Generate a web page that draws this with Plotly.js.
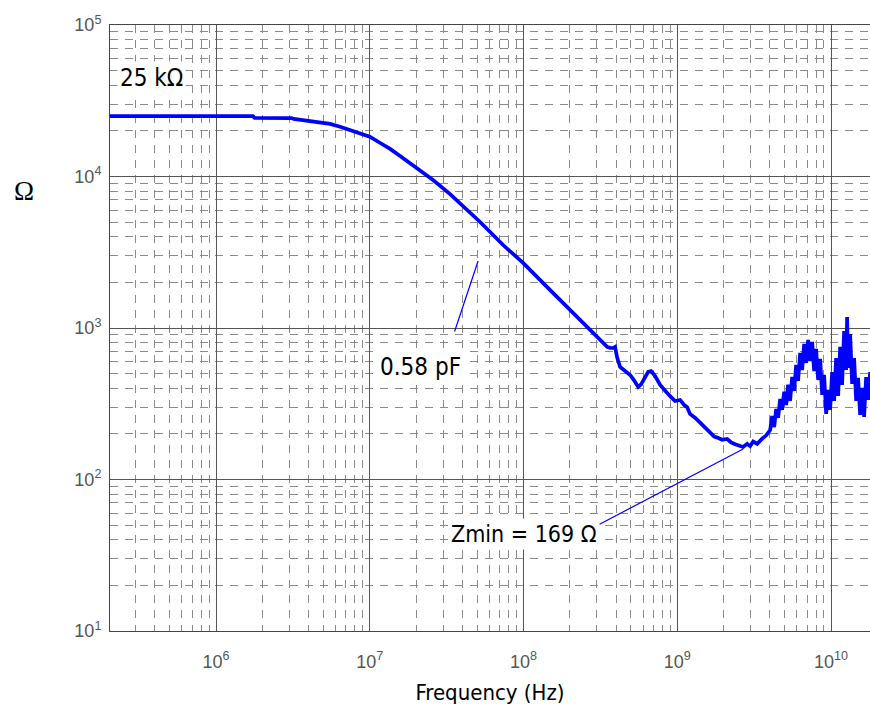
<!DOCTYPE html>
<html>
<head>
<meta charset="utf-8">
<script src="https://cdn.plot.ly/plotly-3.0.1.min.js"></script>
<style>html,body{margin:0;padding:0;background:#fff;}#chart{width:870px;height:711px;}</style>
</head>
<body>
<div id="chart"></div>
<script>
// Impedance magnitude vs frequency
const freqHz = [
  2.04e5, 5.0e5, 1.0e6, 1.74e6, 1.78e6, 2.5e6, 3.1e6, 3.2e6, 4.09e6, 4.75e6,
  5.52e6, 6.41e6, 7.45e6, 8.65e6, 1.0e7, 1.17e7, 1.355e7, 1.575e7, 1.91e7, 2.22e7,
  2.58e7, 3.33e7, 4.29e7, 5.22e7, 7.37e7, 9.94e7, 1.42e8, 1.92e8, 2.59e8, 3.0e8,
  3.5e8, 3.66e8, 3.83e8, 3.94e8, 4.06e8, 4.25e8, 4.58e8, 4.94e8, 5.25e8, 5.57e8,
  5.82e8, 6.18e8, 6.47e8, 6.76e8, 7.18e8, 7.74e8, 8.22e8, 8.60e8, 9.12e8, 9.68e8,
  1.044e9, 1.11e9, 1.16e9, 1.21e9, 1.31e9, 1.41e9, 1.52e9, 1.64e9, 1.74e9, 1.85e9,
  1.96e9, 2.11e9, 2.24e9, 2.38e9, 2.53e9, 2.68e9, 2.85e9, 2.98e9, 3.12e9, 3.31e9,
  3.57e9, 3.78e9,
  4.02e9, 4.14e9, 4.27e9, 4.40e9, 4.53e9, 4.67e9, 4.81e9, 4.96e9, 5.11e9, 5.26e9,
  5.42e9, 5.59e9, 5.76e9, 5.93e9, 6.11e9, 6.30e9, 6.49e9, 6.69e9, 6.89e9, 7.10e9,
  7.32e9, 7.54e9, 7.77e9, 8.00e9, 8.25e9, 8.50e9, 8.76e9, 9.02e9, 9.30e9, 9.58e9,
  9.87e9, 1.017e10, 1.048e10, 1.080e10, 1.113e10, 1.147e10, 1.181e10, 1.217e10, 1.254e10, 1.273e10,
  1.293e10, 1.332e10, 1.372e10, 1.414e10, 1.457e10, 1.501e10, 1.547e10, 1.594e10, 1.642e10, 1.692e10,
  1.744e10, 1.797e10
];
const impedanceOhm = [
  25000, 25000, 25000, 25000, 24400, 24400, 24300, 24000, 23240, 22900,
  22230, 21300, 20280, 19400, 18300, 16630, 15210, 13650, 11910, 10540,
  9480, 7660, 6090, 5010, 3530, 2690, 1870, 1380, 1020, 880,
  750, 740, 738, 750, 640, 553, 520, 490, 450, 408,
  425, 470, 513, 520, 482, 421, 390, 372, 350, 330,
  335, 310, 300, 271, 255, 236, 222, 203, 192, 188,
  183, 185, 176, 171, 168, 164, 172, 166, 178, 172,
  186, 195,
  212, 262, 222, 292, 255, 340, 288, 380, 310, 422,
  330, 476, 384, 570, 447, 685, 528, 785, 588, 833,
  606, 810, 520, 727, 454, 625, 362, 490, 271, 390,
  288, 512, 330, 634, 356, 750, 421, 955, 528, 1183,
  545, 913, 428, 634, 330, 468, 267, 402, 259, 475,
  335, 512
];

const xTickVals = [1e6, 1e7, 1e8, 1e9, 1e10];
const xTickText = ['10<sup>6</sup>', '10<sup>7</sup>', '10<sup>8</sup>', '10<sup>9</sup>', '10<sup>10</sup>'];
const yTickVals = [10, 100, 1000, 10000, 100000];
const yTickText = ['10<sup>1</sup>', '10<sup>2</sup>', '10<sup>3</sup>', '10<sup>4</sup>', '10<sup>5</sup>'];

const xTitle = "Frequency (Hz)";
const yTitle = "Ω";
const labelR = "25 kΩ";
const labelC = "0.58 pF";
const labelZmin = "Zmin = 169 Ω";

const narrow = "Liberation Sans Narrow, DejaVu Sans Condensed, Liberation Sans, Arial, sans-serif";

const trace = {
  x: freqHz, y: impedanceOhm, type: 'scatter', mode: 'lines',
  line: {color: '#0000ff', width: 3.7}, hoverinfo: 'skip'
};

const axisCommon = {
  type: 'log', tickmode: 'array',
  showgrid: true, gridcolor: '#555555', gridwidth: 1,
  showline: true, linecolor: '#444444', linewidth: 1, mirror: true,
  ticks: '', zeroline: false,
  tickfont: {family: 'Liberation Sans, Arial, sans-serif', size: 18, color: '#555555'},
  minor: {tickmode: 'linear', dtick: 'D1', showgrid: true, gridcolor: '#8a8a8a', gridwidth: 1, griddash: '8px,7px', ticks: ''}
};

const layout = {
  width: 870, height: 711,
  margin: {l: 110, r: 0, t: 25, b: 80},
  paper_bgcolor: '#ffffff', plot_bgcolor: '#ffffff',
  showlegend: false,
  xaxis: Object.assign({}, axisCommon, {
    range: [5.3103, 10.2537],
    tickvals: xTickVals, ticktext: xTickText,
    ticklabelstandoff: 14,
    title: {text: xTitle, font: {family: narrow, size: 22, color: '#000000'}, standoff: 14}
  }),
  yaxis: Object.assign({}, axisCommon, {
    range: [1, 5],
    tickvals: yTickVals, ticktext: yTickText,
    ticklabelstandoff: 4
  }),
  annotations: [
    {xref: 'paper', yref: 'paper', x: -0.1138, y: 0.726, xanchor: 'center', yanchor: 'middle',
     text: yTitle, showarrow: false, font: {family: 'Liberation Serif, DejaVu Serif, serif', size: 27, color: '#000000'}},
    {x: 5.577, y: 4.650, xref: 'x', yref: 'y', text: labelR, showarrow: false,
     font: {family: narrow, size: 24, color: '#000000'}, bgcolor: '#ffffff', borderpad: 2},
    {x: 7.331, y: 2.743, xref: 'x', yref: 'y', text: labelC, showarrow: false,
     font: {family: narrow, size: 24, color: '#000000'}, bgcolor: '#ffffff', borderpad: 2},
    {x: 8.0007, y: 1.640, xref: 'x', yref: 'y', text: labelZmin, showarrow: false,
     font: {family: narrow, size: 23, color: '#000000'}, bgcolor: '#ffffff', borderpad: 2},
    {x: 7.7046, y: 3.442, xref: 'x', yref: 'y', ax: 7.5485, ay: 2.967, axref: 'x', ayref: 'y',
     text: '', showarrow: true, arrowhead: 0, arrowwidth: 1.2, arrowcolor: '#0000ff', standoff: 0, startstandoff: 0},
    {x: 9.429, y: 2.201, xref: 'x', yref: 'y', ax: 8.485, ay: 1.700, axref: 'x', ayref: 'y',
     text: '', showarrow: true, arrowhead: 0, arrowwidth: 1.2, arrowcolor: '#0000ff', standoff: 0, startstandoff: 0}
  ]
};

Plotly.newPlot('chart', [trace], layout, {displayModeBar: false, staticPlot: true});
</script>
</body>
</html>
